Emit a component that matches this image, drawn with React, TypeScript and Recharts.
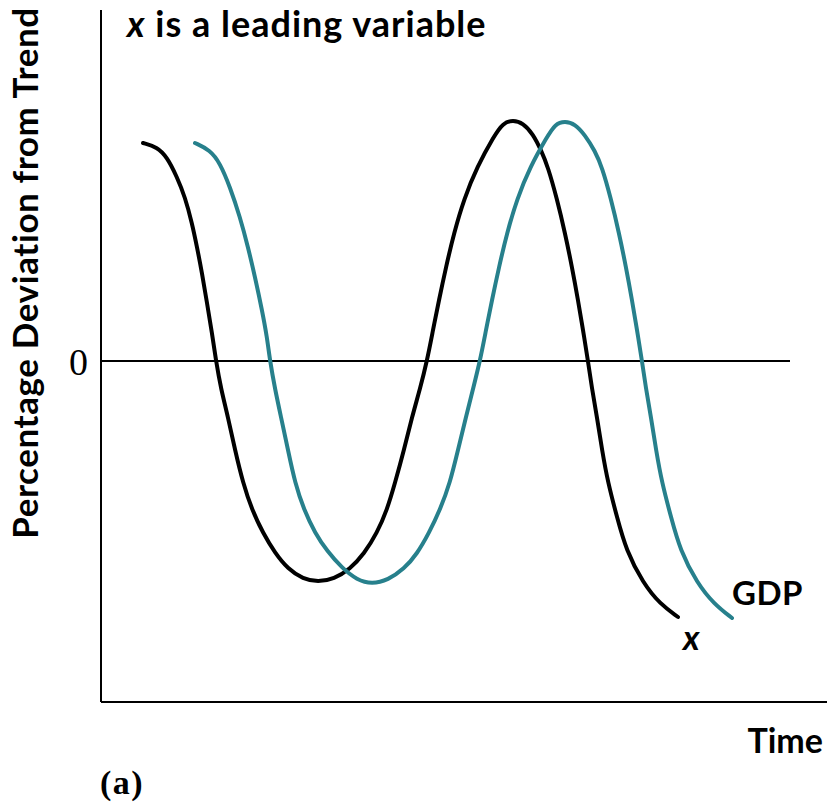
import React from 'react';
import { LineChart, Line, XAxis, YAxis, ReferenceLine, Customized } from 'recharts';

// Time (arbitrary units) and percentage deviation from trend (arbitrary units)
const xVariable = [
  { t: 4.2, v: 21.8 }, { t: 5.6, v: 21.4 }, { t: 6.6, v: 20.4 }, { t: 7.6, v: 18.4 },
  { t: 8.4, v: 16.4 }, { t: 9.1, v: 13.8 }, { t: 9.6, v: 11.4 }, { t: 10.1, v: 8.8 },
  { t: 10.6, v: 5.8 }, { t: 11.1, v: 2.8 }, { t: 11.5, v: 0 }, { t: 12.0, v: -2.8 },
  { t: 12.7, v: -5.6 }, { t: 13.4, v: -8.9 }, { t: 14.2, v: -12.2 }, { t: 15.1, v: -14.9 },
  { t: 16.2, v: -17.2 }, { t: 17.4, v: -19.2 }, { t: 18.7, v: -20.8 }, { t: 20.2, v: -21.8 },
  { t: 21.7, v: -22.1 }, { t: 23.3, v: -21.8 }, { t: 24.9, v: -20.8 }, { t: 26.3, v: -19.3 },
  { t: 27.6, v: -17.2 }, { t: 28.6, v: -14.9 }, { t: 29.4, v: -12.2 }, { t: 30.3, v: -8.9 },
  { t: 31.1, v: -5.6 }, { t: 31.9, v: -2.8 }, { t: 32.6, v: 0 }, { t: 33.2, v: 3.1 },
  { t: 33.8, v: 6.1 }, { t: 34.5, v: 9.4 }, { t: 35.3, v: 12.8 }, { t: 36.3, v: 16.2 },
  { t: 37.6, v: 19.4 }, { t: 39.3, v: 22.5 }, { t: 40.2, v: 23.8 }, { t: 41.2, v: 24.1 },
  { t: 42.2, v: 23.8 }, { t: 43.2, v: 22.7 },
  { t: 44.0, v: 21.1 }, { t: 44.7, v: 19.4 }, { t: 45.6, v: 16.2 }, { t: 46.4, v: 12.8 },
  { t: 47.1, v: 9.4 }, { t: 47.7, v: 6.1 }, { t: 48.2, v: 3.1 }, { t: 48.7, v: 0 },
  { t: 49.1, v: -2.8 }, { t: 49.6, v: -5.6 }, { t: 50.1, v: -8.9 }, { t: 50.7, v: -12.2 },
  { t: 51.6, v: -15.6 }, { t: 52.5, v: -18.9 }, { t: 54.2, v: -22.2 }, { t: 55.9, v: -24.3 },
  { t: 57.7, v: -25.6 },
];

const gdp = [
  { t: 9.4, v: 21.8 }, { t: 10.9, v: 21.1 }, { t: 11.9, v: 19.8 }, { t: 12.9, v: 17.4 },
  { t: 13.9, v: 14.4 }, { t: 14.7, v: 11.4 }, { t: 15.4, v: 8.4 }, { t: 16.1, v: 5.1 },
  { t: 16.6, v: 2.4 }, { t: 16.9, v: 0 }, { t: 17.4, v: -2.8 }, { t: 18.0, v: -5.6 },
  { t: 18.7, v: -8.9 }, { t: 19.4, v: -12.2 }, { t: 20.3, v: -14.9 }, { t: 21.4, v: -17.2 },
  { t: 22.6, v: -19.0 }, { t: 24.1, v: -20.7 }, { t: 25.6, v: -21.9 }, { t: 27.1, v: -22.3 },
  { t: 28.7, v: -21.9 }, { t: 30.3, v: -20.8 }, { t: 31.6, v: -19.3 }, { t: 32.8, v: -17.2 },
  { t: 33.9, v: -14.9 }, { t: 34.9, v: -12.2 }, { t: 35.7, v: -8.9 }, { t: 36.5, v: -5.6 },
  { t: 37.2, v: -2.8 }, { t: 37.9, v: 0 }, { t: 38.5, v: 3.1 }, { t: 39.1, v: 6.1 },
  { t: 39.8, v: 9.4 }, { t: 40.6, v: 12.8 }, { t: 41.6, v: 16.2 }, { t: 42.9, v: 19.4 },
  { t: 44.6, v: 22.4 }, { t: 45.4, v: 23.7 }, { t: 46.4, v: 24.0 }, { t: 47.4, v: 23.7 },
  { t: 48.4, v: 22.6 }, { t: 49.4, v: 21.0 },
  { t: 50.1, v: 19.4 }, { t: 51.0, v: 16.2 }, { t: 51.8, v: 12.8 }, { t: 52.5, v: 9.4 },
  { t: 53.1, v: 6.1 }, { t: 53.6, v: 3.1 }, { t: 54.1, v: 0 }, { t: 54.5, v: -2.8 },
  { t: 55.0, v: -5.6 }, { t: 55.5, v: -8.9 }, { t: 56.1, v: -12.2 }, { t: 57.0, v: -15.6 },
  { t: 57.9, v: -18.9 }, { t: 59.6, v: -22.2 }, { t: 61.3, v: -24.3 }, { t: 63.1, v: -25.7 },
];

const yTicks = [0];
const timeDomain = [0, 72.6];
const devDomain = [-34.1, 35.1];
const zeroLineEnd = 68.9;

const TITLE = 'is a leading variable';
const Y_LABEL = 'Percentage Deviation from Trend';
const X_LABEL = 'Time';
const GDP_LABEL = 'GDP';
const X_SERIES_LABEL = 'x';
const PANEL = '(a)';

const SANS = 'Lato, "Open Sans", sans-serif';
const SERIF = '"Liberation Serif", "DejaVu Serif", serif';
const TEAL = '#27808c';

const Annotations = () => (
  <g>
    <text x={127} y={37} fontFamily={SANS} fontWeight={700} fontSize={36} letterSpacing={1} fill="#000">
      <tspan fontStyle="italic">x</tspan>
      <tspan> {TITLE}</tspan>
    </text>
    <text
      x={38}
      y={273}
      transform="rotate(-90 38 273)"
      textAnchor="middle"
      fontFamily={SANS}
      fontWeight={700}
      fontSize={35}
      letterSpacing={0.6}
      fill="#000"
    >
      {Y_LABEL}
    </text>
    <text x={823} y={753} textAnchor="end" fontFamily={SANS} fontWeight={700} fontSize={34} fill="#000">
      {X_LABEL}
    </text>
    <text x={732} y={605} fontFamily={SANS} fontWeight={700} fontSize={33} letterSpacing={0.5} fill="#000">
      {GDP_LABEL}
    </text>
    <text x={683} y={650} fontFamily={SANS} fontWeight={700} fontStyle="italic" fontSize={34} fill="#000">
      {X_SERIES_LABEL}
    </text>
    <text x={100} y={794} fontFamily={SERIF} fontWeight={700} fontSize={34} letterSpacing={1.5} fill="#000">
      {PANEL}
    </text>
  </g>
);

const ZeroTick = (props: any) => {
  const { y, payload } = props;
  return (
    <text x={88} y={y + 14} textAnchor="end" fontFamily={SERIF} fontSize={38} fill="#000">
      {payload.value}
    </text>
  );
};

export default function App() {
  return (
    <div style={{ position: 'absolute', left: 0, top: 0, width: 827, height: 802, background: '#fff' }}>
      <LineChart width={827} height={802} margin={{ top: 10, right: 0, bottom: 0, left: 0 }}>
        <XAxis
          type="number"
          dataKey="t"
          domain={timeDomain}
          allowDataOverflow
          height={100}
          tick={false}
          tickLine={false}
          axisLine={{ stroke: '#000', strokeWidth: 2 }}
        />
        <YAxis
          type="number"
          dataKey="v"
          domain={devDomain}
          allowDataOverflow
          ticks={yTicks}
          width={101}
          tickLine={false}
          tick={<ZeroTick />}
          axisLine={{ stroke: '#000', strokeWidth: 2 }}
        />
        <ReferenceLine
          segment={[
            { x: timeDomain[0], y: 0 },
            { x: zeroLineEnd, y: 0 },
          ]}
          stroke="#000"
          strokeWidth={2}
          ifOverflow="visible"
        />
        <Line
          data={xVariable}
          dataKey="v"
          type="basis"
          stroke="#000"
          strokeWidth={4}
          strokeLinecap="round"
          dot={false}
          activeDot={false}
          isAnimationActive={false}
        />
        <Line
          data={gdp}
          dataKey="v"
          type="basis"
          stroke={TEAL}
          strokeWidth={4}
          strokeLinecap="round"
          dot={false}
          activeDot={false}
          isAnimationActive={false}
        />
        <Customized component={Annotations} />
      </LineChart>
    </div>
  );
}
